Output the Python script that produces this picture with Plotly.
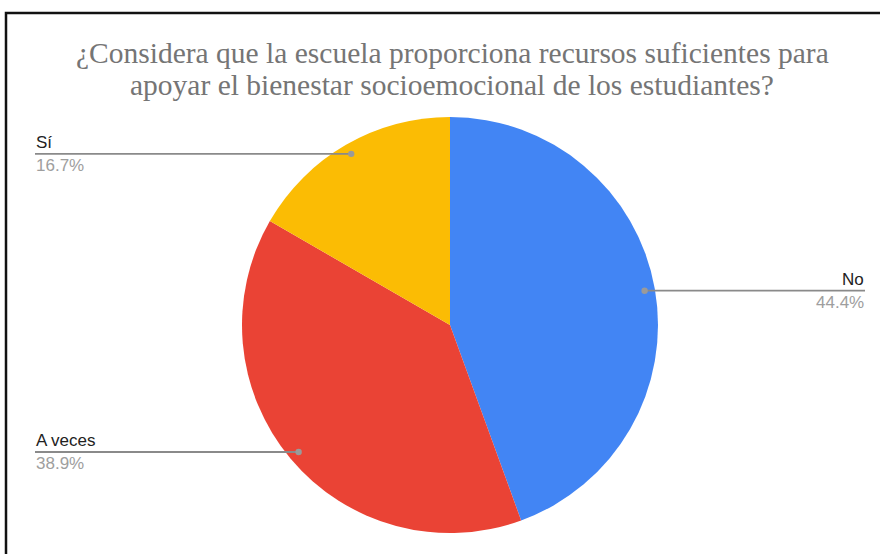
import numpy as np
import plotly.graph_objects as go

labels = ["No", "A veces", "Sí"]
values = [8, 7, 3]
pct_labels = ["44.4%", "38.9%", "16.7%"]
colors = ["#4285F4", "#EA4335", "#FBBC04"]
title_lines = ["¿Considera que la escuela proporciona recursos suficientes para",
               "apoyar el bienestar socioemocional de los estudiantes?"]

W, H = 880, 554
cx, cy, R = 450, 325, 208  # pixel geometry of pie

def px(x):
    return x / W

def py(y):
    return 1 - y / H

fig = go.Figure(go.Pie(
    labels=labels, values=values, sort=False, direction="clockwise",
    rotation=0, marker=dict(colors=colors, line=dict(width=0)),
    textinfo="none", hoverinfo="label+percent", showlegend=False,
    domain=dict(x=[px(cx - R), px(cx + R)], y=[py(cy + R), py(cy - R)]),
))

shapes = []
annotations = []
vals = np.array(values, dtype=float)
cum = np.cumsum(vals) / vals.sum()
starts = np.concatenate([[0], cum[:-1]])
mids = (starts + cum) / 2 * 2 * np.pi
for lab, pct, ang in zip(labels, pct_labels, mids):
    dx, dy = np.sin(ang), -np.cos(ang)
    ax, ay = cx + 0.95 * R * dx, cy + 0.95 * R * dy
    if dx >= 0:
        x_end, anchor = 865, "right"
    else:
        x_end, anchor = 35, "left"
    shapes.append(dict(type="line", xref="paper", yref="paper",
                       x0=px(ax), x1=px(x_end), y0=py(ay), y1=py(ay),
                       line=dict(color="#8a8a8a", width=1.8)))
    shapes.append(dict(type="circle", xref="paper", yref="paper",
                       x0=px(ax - 3.2), x1=px(ax + 3.2), y0=py(ay - 3.2), y1=py(ay + 3.2),
                       fillcolor="#9a9a9a", line=dict(width=0)))
    annotations.append(dict(x=px(x_end), y=py(ay - 1), xref="paper", yref="paper",
                            text=lab, showarrow=False, xanchor=anchor, yanchor="bottom",
                            borderpad=0,
                            font=dict(family="Liberation Sans, Arial", size=17, color="#222222")))
    annotations.append(dict(x=px(x_end), y=py(ay + 1), xref="paper", yref="paper",
                            text=pct, showarrow=False, xanchor=anchor, yanchor="top",
                            borderpad=0,
                            font=dict(family="Liberation Sans, Arial", size=17, color="#9e9e9e")))

for i, t in enumerate(title_lines):
    annotations.append(dict(x=px(452), y=py(53 + 32 * i), xref="paper", yref="paper",
                            text=t, showarrow=False, xanchor="center", yanchor="middle",
                            font=dict(family="Liberation Serif, Times New Roman", size=29.5,
                                      color="#757575")))

# frame (top and left edge of the crop)
shapes.append(dict(type="path", xref="paper", yref="paper",
                   path=f"M {px(6)} {py(560)} L {px(6)} {py(13)} L {px(885)} {py(13)}",
                   line=dict(color="#111111", width=2.5)))

fig.update_layout(width=W, height=H, margin=dict(l=0, r=0, t=0, b=0),
                  paper_bgcolor="white", plot_bgcolor="white",
                  shapes=shapes, annotations=annotations)
fig.write_html("out.html", config={"displayModeBar": False},
               post_script="document.body.style.margin='0';document.body.style.overflow='hidden';")
